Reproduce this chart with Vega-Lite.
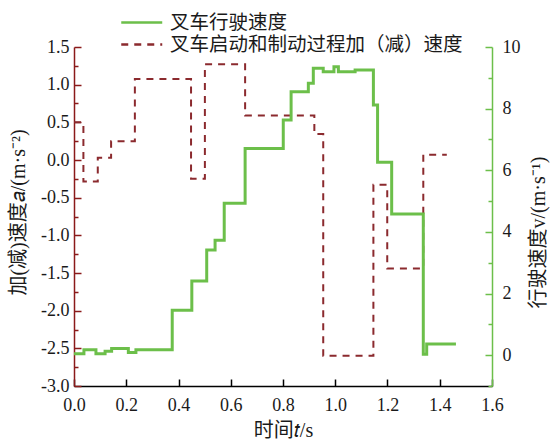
{
  "$schema": "https://vega.github.io/schema/vega-lite/v6.json",
  "width": 418,
  "height": 339,
  "autosize": "none",
  "padding": {"left": 74, "top": 47, "right": 58, "bottom": 54},
  "background": "white",
  "datasets": {
    "accel": [
      {"t": 0.0, "a": 0.5, "series": "叉车启动和制动过程加（减）速度"},
      {"t": 0.036, "a": -0.285, "series": "叉车启动和制动过程加（减）速度"},
      {"t": 0.091, "a": 0.03, "series": "叉车启动和制动过程加（减）速度"},
      {"t": 0.142, "a": 0.25, "series": "叉车启动和制动过程加（减）速度"},
      {"t": 0.233, "a": 1.075, "series": "叉车启动和制动过程加（减）速度"},
      {"t": 0.448, "a": -0.25, "series": "叉车启动和制动过程加（减）速度"},
      {"t": 0.501, "a": 1.27, "series": "叉车启动和制动过程加（减）速度"},
      {"t": 0.655, "a": 0.59, "series": "叉车启动和制动过程加（减）速度"},
      {"t": 0.92, "a": 0.345, "series": "叉车启动和制动过程加（减）速度"},
      {"t": 0.954, "a": -2.6, "series": "叉车启动和制动过程加（减）速度"},
      {"t": 1.146, "a": -0.33, "series": "叉车启动和制动过程加（减）速度"},
      {"t": 1.199, "a": -1.44, "series": "叉车启动和制动过程加（减）速度"},
      {"t": 1.337, "a": 0.07, "series": "叉车启动和制动过程加（减）速度"},
      {"t": 1.427, "a": 0.07, "series": "叉车启动和制动过程加（减）速度"}
    ],
    "speed": [
      {"t": 0.0, "v": 0.05, "series": "叉车行驶速度"},
      {"t": 0.038, "v": 0.18, "series": "叉车行驶速度"},
      {"t": 0.084, "v": 0.05, "series": "叉车行驶速度"},
      {"t": 0.119, "v": 0.13, "series": "叉车行驶速度"},
      {"t": 0.144, "v": 0.22, "series": "叉车行驶速度"},
      {"t": 0.208, "v": 0.09, "series": "叉车行驶速度"},
      {"t": 0.237, "v": 0.18, "series": "叉车行驶速度"},
      {"t": 0.376, "v": 1.46, "series": "叉车行驶速度"},
      {"t": 0.451, "v": 2.41, "series": "叉车行驶速度"},
      {"t": 0.508, "v": 3.41, "series": "叉车行驶速度"},
      {"t": 0.54, "v": 3.73, "series": "叉车行驶速度"},
      {"t": 0.575, "v": 4.93, "series": "叉车行驶速度"},
      {"t": 0.655, "v": 6.71, "series": "叉车行驶速度"},
      {"t": 0.801, "v": 7.63, "series": "叉车行驶速度"},
      {"t": 0.831, "v": 8.55, "series": "叉车行驶速度"},
      {"t": 0.897, "v": 8.82, "series": "叉车行驶速度"},
      {"t": 0.916, "v": 9.31, "series": "叉车行驶速度"},
      {"t": 0.954, "v": 9.2, "series": "叉车行驶速度"},
      {"t": 0.995, "v": 9.36, "series": "叉车行驶速度"},
      {"t": 1.012, "v": 9.2, "series": "叉车行驶速度"},
      {"t": 1.076, "v": 9.25, "series": "叉车行驶速度"},
      {"t": 1.146, "v": 8.12, "series": "叉车行驶速度"},
      {"t": 1.162, "v": 6.26, "series": "叉车行驶速度"},
      {"t": 1.216, "v": 4.58, "series": "叉车行驶速度"},
      {"t": 1.337, "v": 0.03, "series": "叉车行驶速度"},
      {"t": 1.35, "v": 0.36, "series": "叉车行驶速度"},
      {"t": 1.462, "v": 0.36, "series": "叉车行驶速度"}
    ]
  },
  "layer": [
    {
      "data": {"name": "accel"},
      "mark": {"type": "line", "interpolate": "step-after", "strokeWidth": 2},
      "encoding": {
        "x": {
          "field": "t", "type": "quantitative",
          "scale": {"domain": [0, 1.6], "nice": false, "zero": false},
          "axis": {
            "orient": "bottom",
            "values": [0, 0.1, 0.2, 0.3, 0.4, 0.5, 0.6, 0.7, 0.8, 0.9, 1.0, 1.1, 1.2, 1.3, 1.4, 1.5, 1.6],
            "labelExpr": "abs(datum.value*5-round(datum.value*5))<0.01 ? format(datum.value,'.1f') : ''",
            "tickSize": {"condition": {"test": "abs(datum.value*5-round(datum.value*5))<0.01", "value": -7}, "value": -4},
            "labelPadding": 17,
            "labelFlush": false,
            "labelOverlap": false,
            "domainColor": "#000000",
            "tickColor": "#000000",
            "title": "时间𝑡/s",
            "titleY": 44,
            "titleBaseline": "middle"
          }
        },
        "y": {
          "field": "a", "type": "quantitative",
          "scale": {"domain": [-3, 1.5], "nice": false, "zero": false},
          "axis": {
            "orient": "left",
            "values": [-3, -2.75, -2.5, -2.25, -2, -1.75, -1.5, -1.25, -1, -0.75, -0.5, -0.25, 0, 0.25, 0.5, 0.75, 1, 1.25, 1.5],
            "labelExpr": "abs(datum.value*2-round(datum.value*2))<0.01 ? replace(format(datum.value,'.1f'),'\u2212','-') : ''",
            "tickSize": {"condition": {"test": "abs(datum.value*2-round(datum.value*2))<0.01", "value": -7}, "value": -4},
            "labelPadding": 12,
            "labelFlush": false,
            "labelOverlap": false,
            "domainColor": "#8b1a1a",
            "tickColor": "#8b1a1a",
            "title": "加(减)速度𝑎/(m·s⁻²)",
            "titleAngle": -90,
            "titleX": -56,
            "titleY": 165,
            "titleAlign": "center",
            "titleBaseline": "middle"
          }
        },
        "color": {
          "field": "series", "type": "nominal",
          "scale": {"domain": ["叉车行驶速度", "叉车启动和制动过程加（减）速度"], "range": ["#6cbf4a", "#8b2a2e"]},
          "legend": {"title": null}
        },
        "strokeDash": {
          "field": "series", "type": "nominal",
          "scale": {"domain": ["叉车行驶速度", "叉车启动和制动过程加（减）速度"], "range": [[1, 0], [7, 6]]},
          "legend": {"title": null}
        }
      }
    },
    {
      "data": {"name": "speed"},
      "mark": {"type": "line", "interpolate": "step-after", "strokeWidth": 3},
      "encoding": {
        "x": {"field": "t", "type": "quantitative"},
        "y": {
          "field": "v", "type": "quantitative",
          "scale": {"domain": [-1, 10], "nice": false, "zero": false},
          "axis": {
            "orient": "right",
            "values": [-1, 0, 1, 2, 3, 4, 5, 6, 7, 8, 9, 10],
            "labelExpr": "(datum.value%2==0 && datum.value>=0) ? format(datum.value,'d') : ''",
            "tickSize": {"condition": {"test": "datum.value%2==0", "value": -7}, "value": -4},
            "labelPadding": 17,
            "labelFlush": false,
            "labelOverlap": false,
            "domainColor": "#6cbf4a",
            "tickColor": "#6cbf4a",
            "title": "行驶速度v/(m·s⁻¹)",
            "titleAngle": -90,
            "titleX": 46,
            "titleY": 185,
            "titleAlign": "center",
            "titleBaseline": "middle"
          }
        },
        "color": {"field": "series", "type": "nominal"},
        "strokeDash": {"field": "series", "type": "nominal"}
      }
    }
  ],
  "resolve": {"scale": {"y": "independent"}},
  "config": {
    "view": {"stroke": null},
    "axis": {
      "grid": false,
      "labelFont": "Liberation Serif",
      "labelFontSize": 18,
      "labelColor": "#1a1a1a",
      "titleFont": "Liberation Serif, Noto Sans CJK SC",
      "titleFontSize": 20,
      "titleFontWeight": "normal",
      "titleColor": "#1a1a1a",
      "domainWidth": 1.5,
      "tickWidth": 1.5
    },
    "legend": {
      "orient": "none",
      "legendX": 46,
      "legendY": -36,
      "symbolType": "M-1,0H3",
      "symbolSize": 420,
      "symbolStrokeWidth": 2.5,
      "labelFont": "Noto Sans CJK SC",
      "labelFontSize": 19.5,
      "labelColor": "#1a1a1a",
      "labelLimit": 400,
      "rowPadding": 1,
      "labelOffset": 27
    }
  }
}
